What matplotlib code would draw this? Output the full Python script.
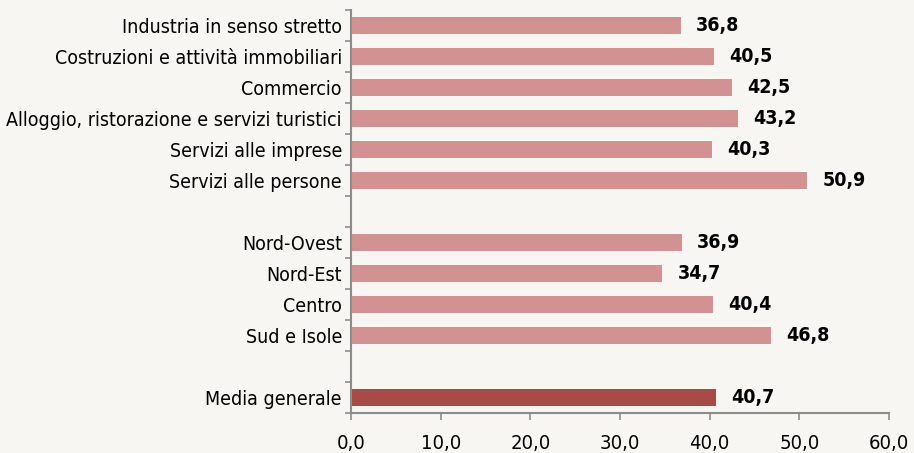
import matplotlib
matplotlib.use("Agg")
import matplotlib.pyplot as plt
import numpy as np

# Data
categories = [
    "Industria in senso stretto",
    "Costruzioni e attività immobiliari",
    "Commercio",
    "Alloggio, ristorazione e servizi turistici",
    "Servizi alle imprese",
    "Servizi alle persone",
    "",
    "Nord-Ovest",
    "Nord-Est",
    "Centro",
    "Sud e Isole",
    "",
    "Media generale",
]
values = [36.8, 40.5, 42.5, 43.2, 40.3, 50.9, None, 36.9, 34.7, 40.4, 46.8, None, 40.7]
highlight = "Media generale"
x_ticks = [0, 10, 20, 30, 40, 50, 60]

BG = "#F7F6F2"
BAR = "#D39292"
BAR_DARK = "#AA4A48"
AXIS = "#8C8C8C"

plt.rcParams['font.family'] = ['DejaVu Sans']
plt.rcParams['font.stretch'] = 'condensed'

fig = plt.figure(figsize=(9.14, 4.53), dpi=100, facecolor=BG)
# axes box in pixels: x 351..889, y 10..413
ax = fig.add_axes([351 / 914, 1 - 413 / 453, (889 - 351) / 914, (413 - 10) / 453], facecolor=BG)

n = len(categories)
ypos = np.arange(n)
for y, cat, v in zip(ypos, categories, values):
    if v is None:
        continue
    color = BAR_DARK if cat == highlight else BAR
    ax.barh(y, v, height=0.54, color=color, zorder=2)
    ax.annotate(f"{v:.1f}".replace(".", ","), xy=(v, y), xytext=(11, 0),
                textcoords="offset points", va="center", ha="left",
                fontsize=14, fontweight="bold", color="black")

ax.set_ylim(n - 0.5, -0.5)
ax.set_xlim(0, 60)

# category labels on major ticks (no mark), boundary marks as minor ticks
ax.set_yticks(ypos)
ax.set_yticklabels(categories)
ax.tick_params(axis="y", which="major", length=0, pad=6.5, labelsize=14)
ax.set_yticks(np.arange(-0.5, n, 1.0), minor=True)
ax.tick_params(axis="y", which="minor", length=4, width=1.2, color=AXIS)

ax.set_xticks(x_ticks)
ax.set_xticklabels([f"{t:.1f}".replace(".", ",") for t in x_ticks])
ax.tick_params(axis="x", length=5, width=1.2, color=AXIS, pad=10, labelsize=14.5)

for side in ["top", "right"]:
    ax.spines[side].set_visible(False)
for side in ["left", "bottom"]:
    ax.spines[side].set_color(AXIS)
    ax.spines[side].set_linewidth(1.5)

fig.savefig("out.png", dpi=100, facecolor=BG)
